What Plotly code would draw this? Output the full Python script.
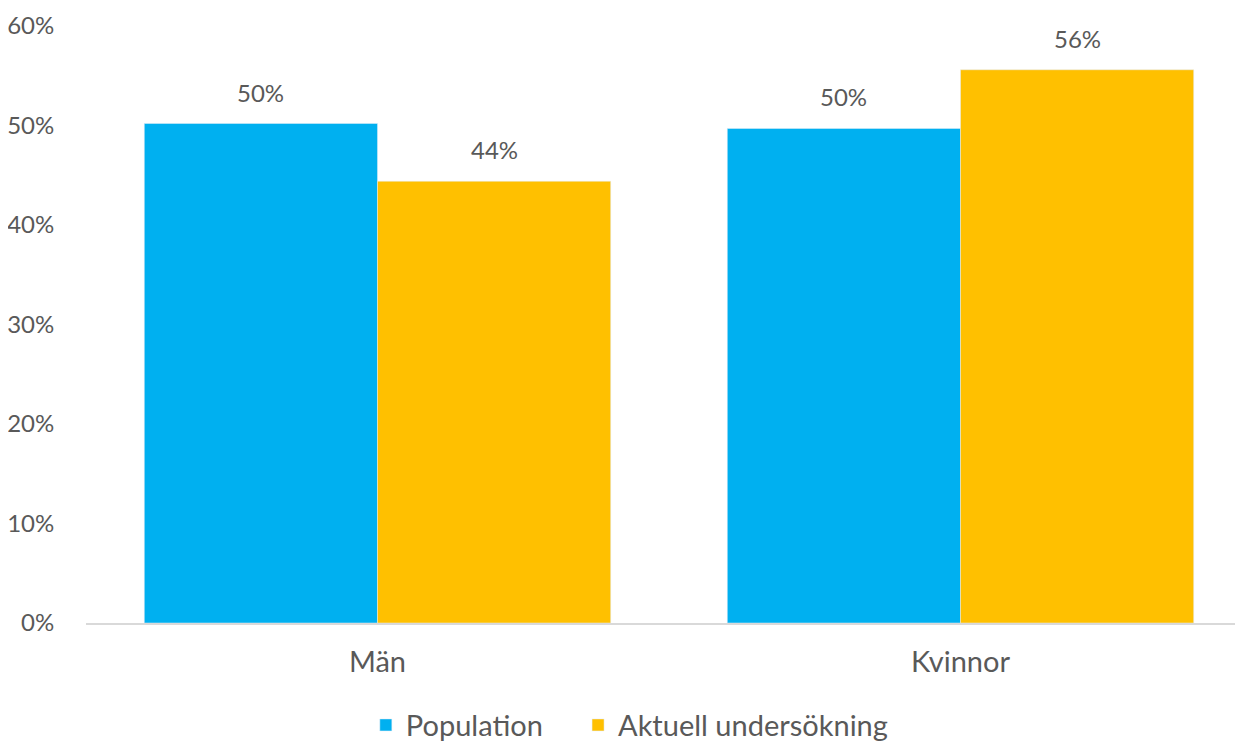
import plotly.graph_objects as go

categories = ["Män", "Kvinnor"]
population = [0.502, 0.497]
aktuell = [0.444, 0.556]
pop_labels = ["50%", "50%"]
akt_labels = ["44%", "56%"]
tick_vals = [0, 0.1, 0.2, 0.3, 0.4, 0.5, 0.6]
tick_text = ["0%", "10%", "20%", "30%", "40%", "50%", "60%"]

font_family = "Lato, 'Open Sans', sans-serif"
txt_col = "#595959"

W, H = 1245, 734
L, R, T, B = 78, 1, 18, 119
BARGAP = 0.2
plot_w = W - L - R
bar_px = plot_w / len(categories) * (1 - BARGAP) / 2

fig = go.Figure()
fig.add_trace(go.Bar(name="Population", x=categories, y=population, marker_color="#00B0F0",
                     legend="legend", showlegend=True))
fig.add_trace(go.Bar(name="Aktuell undersökning", x=categories, y=aktuell, marker_color="#FFC000",
                     legend="legend2", showlegend=True))

annotations = []
for series, labels, sign in ((population, pop_labels, -1), (aktuell, akt_labels, 1)):
    for cat, val, lab in zip(categories, series, labels):
        annotations.append(dict(x=cat, y=val, text=lab, showarrow=False, xanchor="center",
                                yanchor="bottom", xshift=sign * bar_px / 2, yshift=15,
                                font=dict(size=24, color=txt_col, family=font_family)))

leg_common = dict(orientation="h", xanchor="left", y=-0.171, yanchor="middle",
                  font=dict(size=29, color=txt_col), itemwidth=30, bgcolor="rgba(0,0,0,0)")

fig.update_layout(
    width=W, height=H,
    margin=dict(l=L, r=R, t=T, b=B, autoexpand=False),
    barmode="group", bargap=BARGAP, bargroupgap=0,
    plot_bgcolor="white", paper_bgcolor="white",
    font=dict(family=font_family, color=txt_col, size=24),
    annotations=annotations,
    showlegend=True,
    legend=dict(x=0.24, **leg_common),
    legend2=dict(x=0.422, **leg_common),
    xaxis=dict(showline=True, linecolor="#D9D9D9", linewidth=2, tickfont=dict(size=29, color=txt_col),
               ticks="outside", ticklen=12, tickcolor="white"),
    yaxis=dict(range=[0, 0.6], tickvals=tick_vals, ticktext=tick_text, showgrid=False,
               zeroline=False, tickfont=dict(size=24, color=txt_col), ticks="outside",
               ticklen=26, tickcolor="white"),
)

fig.write_html("out.html")
